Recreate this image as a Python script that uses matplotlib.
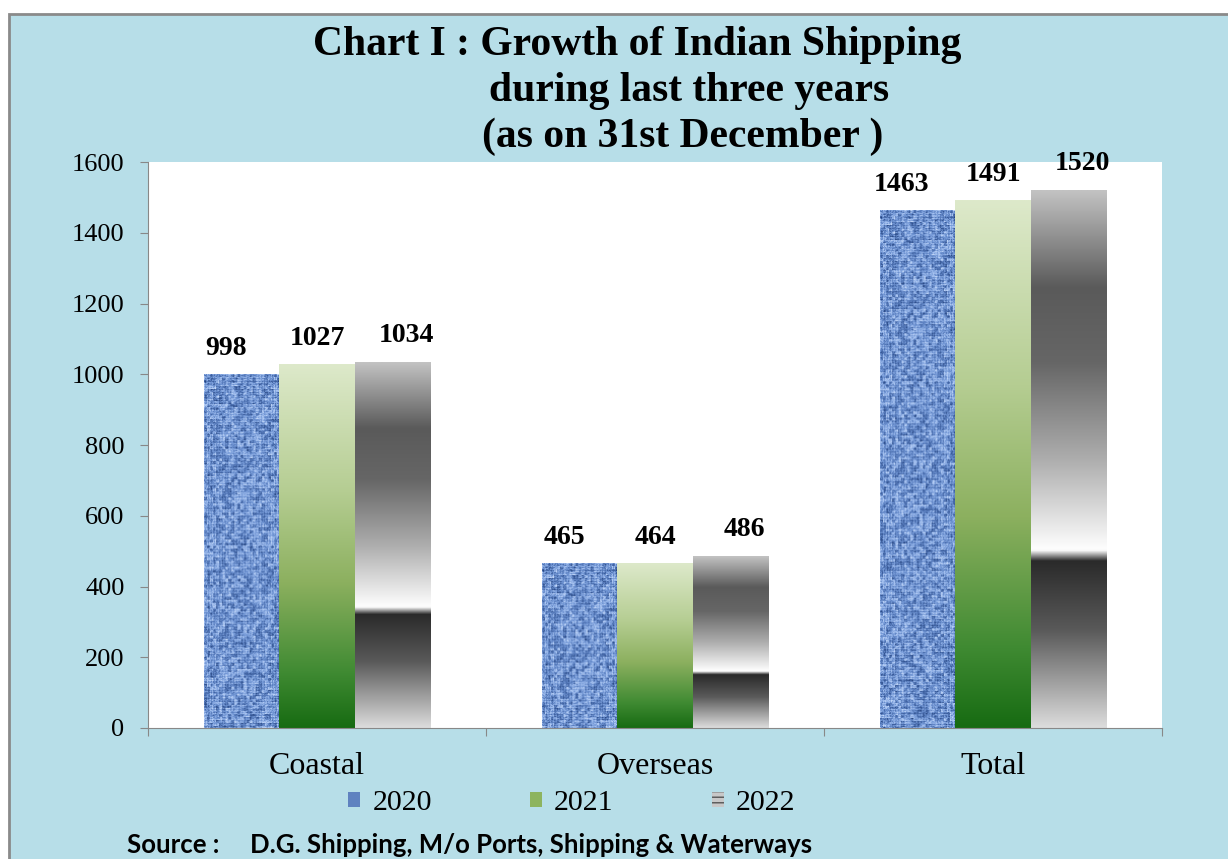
import matplotlib
matplotlib.use('Agg')
import matplotlib.pyplot as plt
import numpy as np
from matplotlib.colors import LinearSegmentedColormap
from matplotlib.patches import Rectangle, Patch

categories = ['Coastal', 'Overseas', 'Total']
years = ['2020', '2021', '2022']
v2020 = [998, 465, 1463]
v2021 = [1027, 464, 1491]
v2022 = [1034, 486, 1520]
yticks = [0, 200, 400, 600, 800, 1000, 1200, 1400, 1600]

serif = 'Liberation Serif'
bg = '#B7DEE8'

fig = plt.figure(figsize=(12.28, 8.59), dpi=100)
fig.patch.set_facecolor('white')
fig.patches.append(Rectangle((9/1228, -0.01), 1.05, (859-14)/859 + 0.01, transform=fig.transFigure,
                             facecolor=bg, edgecolor='#8a8a8a', linewidth=2, zorder=-1))

ax = fig.add_axes([148/1228, 1-728/859, (1162-148)/1228, (728-162)/859])
ax.set_facecolor('white')
ax.set_zorder(1)

# colour maps for the bar fills
green = LinearSegmentedColormap.from_list('g', [(0, '#dde9ca'), (0.35, '#b5cd92'), (0.6, '#8cb05f'),
                                               (0.85, '#3f8a32'), (1, '#176b12')])
gray = LinearSegmentedColormap.from_list('k', [(0, '#c2c2c2'), (0.18, '#5a5a5a'), (0.32, '#666666'),
                                              (0.5, '#adadad'), (0.64, '#f0f0f0'), (0.67, '#ffffff'),
                                              (0.69, '#2a2a2a'), (0.82, '#5a5a5a'), (1, '#dcdcdc')])
blue = LinearSegmentedColormap.from_list('b', ['#1f3c74', '#4366a6', '#7095d4', '#a6c2f0', '#d2e2fa'])


def hash2(i, j):
    return np.abs(np.modf(np.sin(i * 12.9898 + j * 78.233) * 43758.5453)[0])


def weave(rows, cols=75):
    yy, xx = np.mgrid[0:rows, 0:cols].astype(float)
    fine = hash2(xx, yy)
    coarse = hash2(np.floor(xx / 3), np.floor(yy / 3) + 500)
    grid = 0.5 * (np.cos(2 * np.pi * xx / 5.5) ** 2 + np.cos(2 * np.pi * yy / 5.5) ** 2)
    return 0.3 * fine + 0.4 * coarse + 0.3 * grid


t = np.linspace(0, 1, 256).reshape(-1, 1)
px_per_unit = (728 - 162) / 1600

w = 0.222
x = np.arange(len(categories)) + 0.5
label_dx = [-16, 0, 14]
series = [(v2020, blue), (v2021, green), (v2022, gray)]
for i, (vals, cmap) in enumerate(series):
    bars = ax.bar(x + (i - 1) * w, vals, width=w, color='none', edgecolor='none', zorder=3)
    for b in bars:
        x0, h = b.get_x(), b.get_height()
        img = weave(int(h * px_per_unit)) if i == 0 else t
        ax.imshow(img, cmap=cmap, extent=[x0, x0 + b.get_width(), 0, h], aspect='auto',
                  origin='upper', zorder=2, interpolation='bilinear')
        ax.annotate(f'{int(h)}', (x0 + b.get_width() / 2, h), xytext=(label_dx[i] * 0.72, 19),
                    textcoords='offset points', ha='center', va='center', fontsize=20,
                    fontweight='bold', family=serif, annotation_clip=False)

ax.set_xlim(0, 3)
ax.set_ylim(0, 1600)
ax.set_yticks(yticks)
ax.set_yticklabels([str(v) for v in yticks], family=serif, fontsize=19)
ax.set_xticks([0, 1, 2, 3])
ax.set_xticklabels([])
ax.set_xticks(x, minor=True)
ax.set_xticklabels(categories, minor=True, family=serif, fontsize=23)
ax.tick_params(axis='x', which='minor', length=0, pad=17)
ax.tick_params(axis='x', which='major', length=6, color='#888888')
ax.tick_params(axis='y', length=6, color='#888888', pad=11)
for s in ['top', 'right']:
    ax.spines[s].set_visible(False)
for s in ['left', 'bottom']:
    ax.spines[s].set_color('#888888')

tkw = dict(ha='center', va='center', family=serif, fontsize=30, fontweight='bold')
fig.text(637/1228, 1-45/859, 'Chart I : Growth of Indian Shipping', **tkw)
fig.text(689/1228, 1-91/859, 'during last three years', **tkw)
fig.text(683/1228, 1-137/859, '(as on 31st December )', **tkw)

handles = [Patch(facecolor='#5f82c0'), Patch(facecolor='#8db45f'),
           Patch(facecolor='#c8c8c8', hatch='---', edgecolor='#555555', linewidth=0)]
fig.legend(handles, years, loc='center', bbox_to_anchor=(572/1228, 1-803/859), ncol=3, frameon=False,
           prop={'family': serif, 'size': 21.5}, handlelength=0.4, handleheight=0.4, handletextpad=0.4,
           columnspacing=3.3)

fig.text(127/1228, 1-845/859, 'Source :', ha='left', va='center', family='Lato', fontsize=18.5,
         fontweight='bold')
fig.text(250/1228, 1-845/859, 'D.G. Shipping, M/o Ports, Shipping & Waterways', ha='left',
         va='center', family='Lato', fontsize=18.5, fontweight='bold')

fig.savefig('out.png', dpi=100)
